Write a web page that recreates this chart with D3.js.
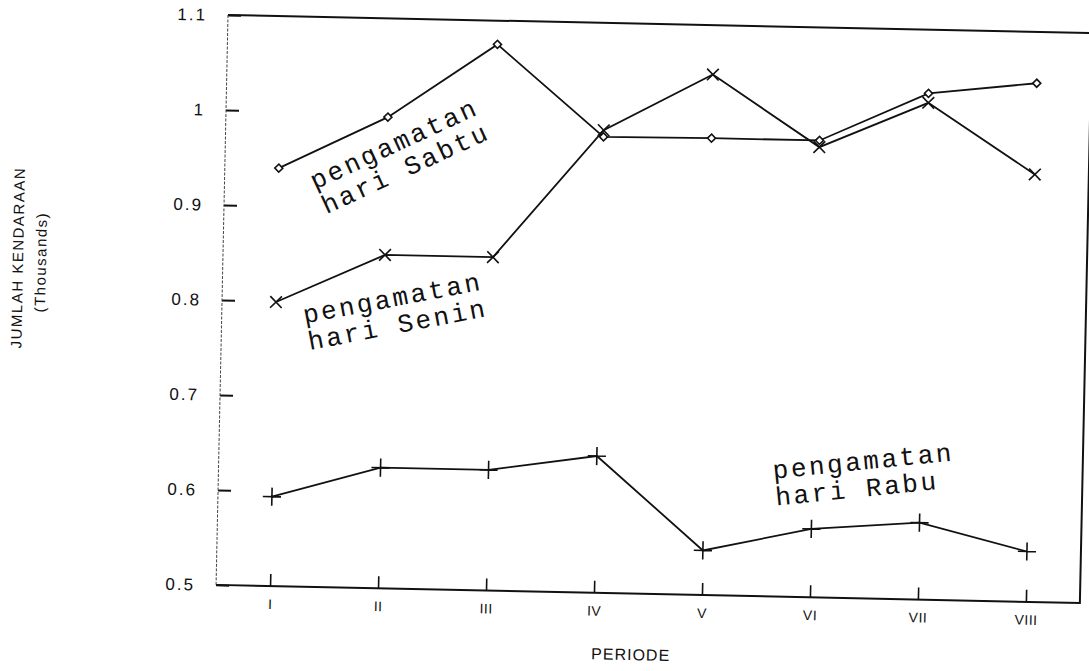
<!DOCTYPE html>
<html>
<head>
<meta charset="utf-8">
<script src="https://cdn.jsdelivr.net/npm/d3@7/dist/d3.min.js"></script>
<style>
  body { margin: 0; background: #fff; }
  svg { display: block; }
  .tick text { font-family: "Liberation Sans", Arial, sans-serif; fill: #111; }
</style>
</head>
<body>
<svg id="chart" width="1089" height="671"></svg>
<script>
// data (thousands of vehicles)
const periods = ["I", "II", "III", "IV", "V", "VI", "VII", "VIII"];
const sabtu = [0.940, 0.996, 1.075, 0.980, 0.981, 0.981, 1.033, 1.046];
const senin = [0.799, 0.851, 0.851, 0.987, 1.048, 0.974, 1.023, 0.950];
const rabu  = [0.594, 0.627, 0.627, 0.644, 0.547, 0.572, 0.581, 0.553];
const yTicks = [0.5, 0.6, 0.7, 0.8, 0.9, 1.0, 1.1];
const labels = [["pengamatan", "hari Sabtu"], ["pengamatan", "hari Senin"], ["pengamatan", "hari Rabu"]];

const W = 864, H = 570;
const tilt = 1.2; // the scan is a little crooked

const svg = d3.select("#chart");
const g = svg.append("g")
    .attr("transform", `translate(228,15) rotate(${tilt})`);

const x = d3.scalePoint().domain(periods).range([0, W]).padding(0.5);
const y = d3.scaleLinear().domain([0.5, 1.1]).range([H, 0]);

// y axis, ticks pointing inward
const yAxis = g.append("g")
    .call(d3.axisLeft(y).tickValues(yTicks).tickSizeInner(-13).tickSizeOuter(0).tickPadding(21)
        .tickFormat(d => d === 1 ? "1" : d3.format(".1f")(d)));
yAxis.select(".domain").remove();
yAxis.selectAll(".tick line").attr("stroke", "#111").attr("stroke-width", 2);
yAxis.selectAll(".tick text").attr("font-size", 17).attr("letter-spacing", 2).attr("fill", "#111");

// x axis, ticks pointing up
const xAxis = g.append("g")
    .attr("transform", `translate(0,${H})`)
    .call(d3.axisBottom(x).tickSizeInner(-12).tickSizeOuter(0).tickPadding(13));
xAxis.select(".domain").remove();
xAxis.selectAll(".tick line").attr("stroke", "#111").attr("stroke-width", 1.6);
xAxis.selectAll(".tick text").attr("font-size", 14).attr("letter-spacing", 0.5).attr("fill", "#111");

// frame: left side faint dotted, rest solid
g.append("line")
    .attr("x1", 0).attr("y1", 0).attr("x2", 0).attr("y2", H)
    .attr("stroke", "#444").attr("stroke-width", 1).attr("stroke-dasharray", "3,1.5");
g.append("path")
    .attr("d", `M0,${H}H${W}V0H0`)
    .attr("fill", "none").attr("stroke", "#111").attr("stroke-width", 2);

const line = d3.line()
    .x((d, i) => x(periods[i]))
    .y(d => y(d));

const series = [
    { values: sabtu, symbol: d3.symbolSquare, size: 32, rot: 45, fill: "#fff" },
    { values: senin, symbol: d3.symbolTimes, size: 90, rot: 0, fill: "none" },
    { values: rabu,  symbol: d3.symbolPlus,  size: 110, rot: 0, fill: "none" }
];

series.forEach(s => {
    g.append("path")
        .datum(s.values)
        .attr("d", line)
        .attr("fill", "none")
        .attr("stroke", "#111")
        .attr("stroke-width", 1.8);

    g.selectAll(null)
        .data(s.values)
        .enter()
        .append("path")
        .attr("transform", (d, i) => `translate(${x(periods[i])},${y(d)}) rotate(${s.rot})`)
        .attr("d", d3.symbol(s.symbol, s.size))
        .attr("fill", s.fill)
        .attr("stroke", "#111")
        .attr("stroke-width", 1.6);
});

// hand-lettered series labels, anchored in data space
const notes = [
    { text: labels[0], at: "I", frac: 0.34, v: 0.918, angle: -26 },
    { text: labels[1], at: "I", frac: 0.27, v: 0.777, angle: -12 },
    { text: labels[2], at: "V", frac: 0.64, v: 0.624, angle: -7 }
];

notes.forEach(n => {
    const px = x(n.at) + n.frac * x.step();
    const py = y(n.v);
    const t = g.append("text")
        .attr("transform", `translate(${px},${py}) rotate(${n.angle})`)
        .attr("font-family", "'Courier New', 'Liberation Mono', monospace")
        .attr("font-size", 26)
        .attr("letter-spacing", 2.6)
        .attr("fill", "#111");
    t.selectAll("tspan")
        .data(n.text)
        .enter()
        .append("tspan")
        .attr("x", 0)
        .attr("dy", (d, i) => i === 0 ? 0 : 27)
        .text(d => d);
});

// axis titles
g.append("text")
    .attr("transform", `translate(-205,${H / 2 - 38}) rotate(-90)`)
    .attr("text-anchor", "middle")
    .attr("dy", "0.35em")
    .attr("font-family", "'Liberation Sans', Arial, sans-serif")
    .attr("font-size", 15)
    .attr("letter-spacing", 1.5)
    .attr("fill", "#111")
    .text("JUMLAH KENDARAAN");

g.append("text")
    .attr("transform", `translate(-182,${H / 2 - 34}) rotate(-90)`)
    .attr("text-anchor", "middle")
    .attr("dy", "0.35em")
    .attr("font-family", "'Liberation Sans', Arial, sans-serif")
    .attr("font-size", 15)
    .attr("letter-spacing", 1.5)
    .attr("fill", "#111")
    .text("(Thousands)");

g.append("text")
    .attr("x", W / 2 - 16)
    .attr("y", H + 61)
    .attr("text-anchor", "middle")
    .attr("dy", "0.35em")
    .attr("font-family", "'Liberation Sans', Arial, sans-serif")
    .attr("font-size", 16)
    .attr("letter-spacing", 1)
    .attr("fill", "#111")
    .text("PERIODE");
</script>
</body>
</html>
